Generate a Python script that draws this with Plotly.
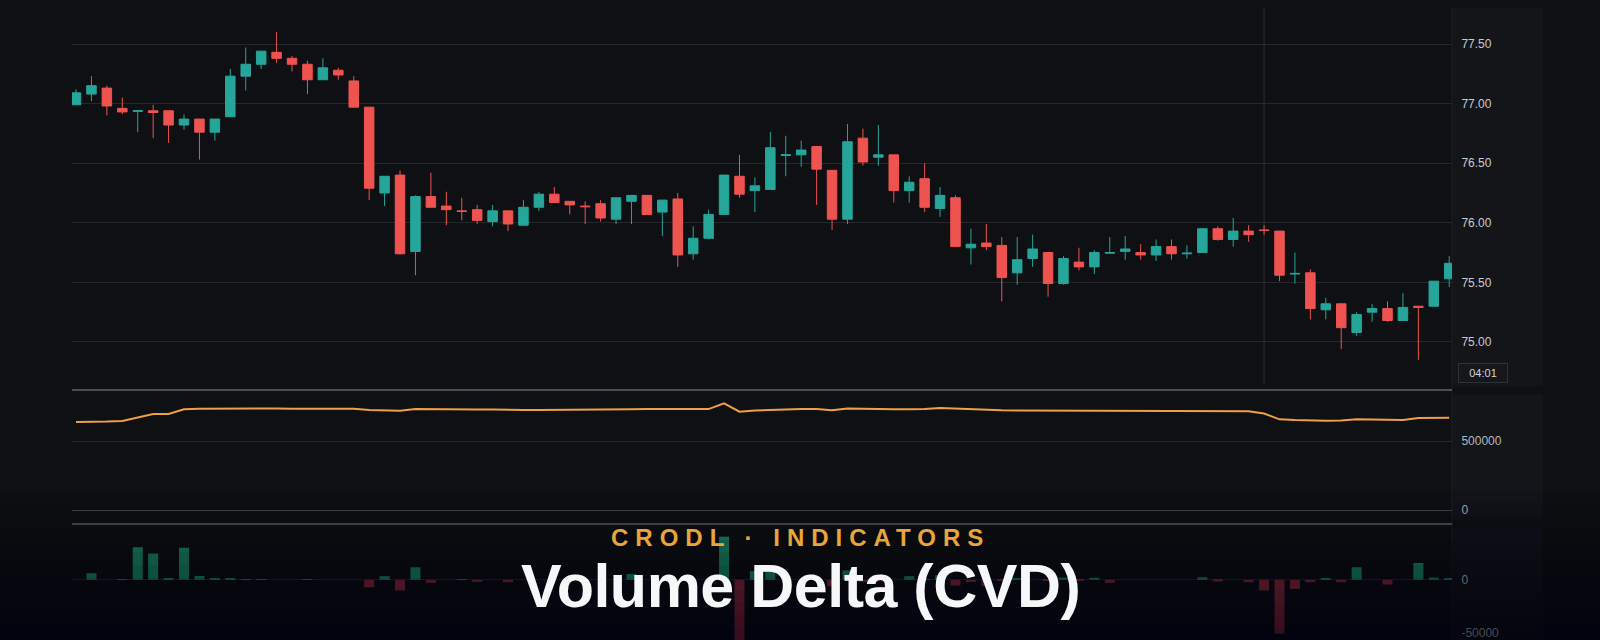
import plotly.graph_objects as go

# ---------------- data ----------------
opens = [76.99, 77.08, 77.13, 76.96, 76.935, 76.94, 76.94, 76.82, 76.87, 76.76,
         76.89, 77.23, 77.33, 77.43, 77.38, 77.33, 77.20, 77.28, 77.19, 76.97,
         76.25, 76.40, 75.76, 76.22, 76.14, 76.10, 76.11, 76.01, 76.10, 75.98,
         76.13, 76.24, 76.18, 76.14, 76.16, 76.03, 76.18, 76.23, 76.09, 76.20,
         75.74, 75.87, 76.07, 76.39, 76.27, 76.28, 76.565, 76.57, 76.64, 76.44,
         76.03, 76.71, 76.55, 76.57, 76.27, 76.37, 76.12, 76.21, 75.79, 75.83,
         75.81, 75.58, 75.70, 75.75, 75.49, 75.67, 75.63, 75.745, 75.76, 75.75,
         75.73, 75.80, 75.74, 75.75, 75.95, 75.86, 75.93, 75.94, 75.93, 75.57,
         75.58, 75.27, 75.32, 75.08, 75.25, 75.28, 75.18, 75.30, 75.30, 75.53]
highs = [77.12, 77.23, 77.15, 77.05, 76.94, 76.99, 76.94, 76.91, 76.87, 76.87,
         77.29, 77.47, 77.44, 77.60, 77.40, 77.36, 77.38, 77.30, 77.23, 76.97,
         76.39, 76.44, 76.23, 76.42, 76.26, 76.21, 76.15, 76.15, 76.10, 76.19,
         76.26, 76.30, 76.18, 76.18, 76.19, 76.21, 76.23, 76.23, 76.19, 76.25,
         75.97, 76.11, 76.40, 76.57, 76.38, 76.76, 76.73, 76.69, 76.64, 76.44,
         76.83, 76.79, 76.82, 76.57, 76.39, 76.50, 76.30, 76.23, 75.95, 75.99,
         75.88, 75.88, 75.90, 75.75, 75.72, 75.79, 75.77, 75.88, 75.89, 75.82,
         75.86, 75.86, 75.81, 75.95, 75.97, 76.04, 75.98, 75.98, 75.93, 75.75,
         75.61, 75.37, 75.32, 75.25, 75.32, 75.34, 75.41, 75.30, 75.51, 75.72]
lows = [76.99, 77.02, 76.90, 76.91, 76.76, 76.71, 76.67, 76.78, 76.53, 76.69,
        76.89, 77.11, 77.29, 77.34, 77.27, 77.08, 77.20, 77.20, 76.97, 76.19,
        76.14, 75.73, 75.56, 76.13, 75.98, 76.02, 75.99, 75.97, 75.93, 75.98,
        76.10, 76.17, 76.07, 75.99, 76.01, 75.99, 75.99, 76.07, 75.89, 75.63,
        75.69, 75.86, 76.07, 76.21, 76.09, 76.28, 76.39, 76.47, 76.15, 75.94,
        75.99, 76.48, 76.48, 76.17, 76.17, 76.09, 76.05, 75.80, 75.65, 75.77,
        75.34, 75.48, 75.63, 75.38, 75.48, 75.60, 75.57, 75.74, 75.69, 75.69,
        75.68, 75.69, 75.70, 75.75, 75.85, 75.80, 75.84, 75.90, 75.51, 75.49,
        75.19, 75.19, 74.94, 75.05, 75.17, 75.17, 75.18, 74.85, 75.30, 75.46]
closes = [77.09, 77.15, 76.98, 76.93, 76.94, 76.925, 76.82, 76.87, 76.76, 76.87,
          77.23, 77.33, 77.44, 77.38, 77.33, 77.20, 77.30, 77.24, 76.97, 76.29,
          76.39, 75.74, 76.22, 76.13, 76.11, 76.095, 76.02, 76.10, 75.99, 76.13,
          76.24, 76.17, 76.15, 76.135, 76.04, 76.21, 76.23, 76.07, 76.19, 75.73,
          75.87, 76.07, 76.40, 76.24, 76.31, 76.63, 76.57, 76.61, 76.45, 76.03,
          76.68, 76.51, 76.57, 76.27, 76.34, 76.13, 76.23, 75.80, 75.82, 75.80,
          75.54, 75.69, 75.78, 75.49, 75.70, 75.63, 75.75, 75.75, 75.78, 75.73,
          75.80, 75.74, 75.745, 75.95, 75.86, 75.93, 75.90, 75.935, 75.56, 75.575,
          75.28, 75.32, 75.12, 75.23, 75.28, 75.18, 75.29, 75.29, 75.51, 75.66]
cvd = [638000, 638000, 641000, 645000, 672000, 696000, 696000, 730000, 734000, 735000,
       735000, 735000, 736000, 735000, 734000, 734000, 734000, 734000, 733000, 725000,
       722000, 720000, 732000, 730000, 730000, 729000, 728000, 728000, 725000, 725000,
       725000, 725000, 725000, 725000, 726000, 728000, 730000, 731000, 731000, 730000,
       730000, 731000, 773000, 712000, 721000, 725000, 732000, 732000, 732000, 722000,
       736000, 733000, 730000, 730000, 730000, 731000, 739000, 735000, 732000, 723000,
       722000, 721000, 721000, 720000, 720000, 720000, 720000, 720000, 719000, 719000,
       718000, 718000, 718000, 718000, 718000, 718000, 716000, 699000, 657000, 652000,
       648000, 647000, 648000, 657000, 656000, 652000, 652000, 667000, 668000, 669000]
vol_delta = [0, 6300, 0, 800, 31000, 25000, 1500, 30500, 3800, 1000,
             1600, 600, 400, 0, 0, 300, 0, 0, 0, -7000,
             3500, -10000, 12000, -2800, 0, 300, -1900, 0, -2200, 0,
             0, 0, 0, 0, 0, 0, 5700, 0, 0, -1200,
             0, 0, 41000, -62000, 8500, 9000, 0, 0, 0, -6000,
             9000, -2000, -1500, 0, 3500, 500, 4500, -5300, -2000, -6000,
             -1000, 1600, 0, -800, 2200, -1000, 2000, -2800, 0, 0,
             0, 0, 0, 2500, -1600, 0, -2200, -10000, -51000, -8500,
             -2200, 1000, -2200, 12000, 0, -4400, 0, 16000, 2200, 1000]
price_ticks = [75.0, 75.5, 76.0, 76.5, 77.0, 77.5]
cvd_ticks = [0, 500000]
vol_ticks = [-50000, 0]
crosshair_index = 77
crosshair_label = "04:01"
title_small = "CRODL · INDICATORS"
title_big = "Volume Delta (CVD)"

idx = list(range(len(opens)))

# ---------------- style ----------------
BG = "#0e1013"
GREEN = "#26a69a"
RED = "#ef5350"
VGREEN = "#1d8a62"
VRED = "#8c2a3a"
GRID = "#24272c"
SEP = "#8c8f94"
W, H = 1600, 640
X0, X1 = 72 / W, 1452 / W
P_BOT, P_TOP = 1 - 390 / H, 1 - 8 / H
C_BOT, C_TOP = 1 - 524 / H, 1 - 390 / H
V_BOT, V_TOP = 0.0, 1 - 524 / H

fig = go.Figure()
fig.add_trace(go.Candlestick(
    x=idx, open=opens, high=highs, low=lows, close=closes,
    increasing=dict(line=dict(color=GREEN, width=1), fillcolor=GREEN),
    decreasing=dict(line=dict(color=RED, width=1), fillcolor=RED),
    whiskerwidth=0, hoverinfo="skip", showlegend=False,
    xaxis="x", yaxis="y"))
fig.add_trace(go.Scatter(
    x=idx, y=cvd, mode="lines", line=dict(color="#f0a046", width=2),
    hoverinfo="skip", showlegend=False, xaxis="x2", yaxis="y2"))
fig.add_trace(go.Bar(
    x=idx, y=vol_delta,
    marker=dict(color=[VGREEN if v >= 0 else VRED for v in vol_delta], line=dict(width=0)),
    hoverinfo="skip", showlegend=False, xaxis="x3", yaxis="y3"))

xr = [-0.26, 89.18]
xcommon = dict(domain=[X0, X1], range=xr, showgrid=False, zeroline=False,
               showticklabels=False, showline=False, ticks="", fixedrange=True)
ycommon = dict(side="right", showline=False, ticks="outside", ticklen=6,
               tickcolor="rgba(0,0,0,0)", fixedrange=True,
               tickfont=dict(family="Liberation Sans, Arial, sans-serif", size=12, color="#b4b7bd"))

shapes = []
# right axis strip backgrounds
for (ya, yb) in [(8, 386), (395, 520), (528, 640)]:
    shapes.append(dict(type="rect", xref="paper", yref="paper", x0=X1, x1=1543 / W,
                       y0=1 - yb / H, y1=1 - ya / H, fillcolor="#131519",
                       line=dict(width=0), layer="below"))
# axis border
shapes.append(dict(type="line", xref="paper", yref="paper", x0=X1, x1=X1,
                   y0=0, y1=P_TOP, line=dict(color="#1d2024", width=1), layer="below"))
# crosshair
shapes.append(dict(type="line", xref="x", yref="paper", x0=crosshair_index, x1=crosshair_index,
                   y0=1 - 384 / H, y1=P_TOP, line=dict(color="#2c2f35", width=1), layer="below"))
# panel separators
for yp in [C_TOP, C_BOT]:
    shapes.append(dict(type="line", xref="paper", yref="paper", x0=X0, x1=X1,
                       y0=yp, y1=yp, line=dict(color=SEP, width=1), layer="above"))
# bottom darkening gradient
n = 12
for k in range(n):
    ytop = 490 + k * (150 / n)
    shapes.append(dict(type="rect", xref="paper", yref="paper", x0=0, x1=1,
                       y0=0, y1=1 - ytop / H, fillcolor="rgba(5,6,8,0.07)",
                       line=dict(width=0), layer="above"))

annotations = [
    dict(text=crosshair_label, xref="paper", yref="paper", x=1483 / W, y=1 - 373 / H,
         showarrow=False, font=dict(family="Liberation Sans, Arial", size=11, color="#d1d4dc"),
         bgcolor="#15171b", bordercolor="#2e3136", borderwidth=1, borderpad=3, width=42,
         xanchor="center", yanchor="middle"),
    dict(text='<b><span style="letter-spacing:7px">' + title_small + '</span></b>',
         xref="paper", yref="paper", x=0.5, y=1 - 537 / H, showarrow=False,
         font=dict(family="Liberation Sans, Arial", size=24, color="#e8a53a"),
         xanchor="center", yanchor="middle"),
    dict(text='<b><span style="letter-spacing:-0.5px">' + title_big + '</span></b>',
         xref="paper", yref="paper", x=0.5, y=1 - 586 / H, showarrow=False,
         font=dict(family="Liberation Sans, Arial", size=61, color="#f6f7f8"),
         xanchor="center", yanchor="middle"),
]

fig.update_layout(
    width=W, height=H, margin=dict(l=0, r=0, t=0, b=0),
    paper_bgcolor=BG, plot_bgcolor="rgba(0,0,0,0)",
    showlegend=False, bargap=0.35, boxgap=0.12, hovermode=False,
    xaxis=dict(**xcommon, anchor="y", rangeslider=dict(visible=False)),
    xaxis2=dict(**xcommon, anchor="y2", matches="x"),
    xaxis3=dict(**xcommon, anchor="y3", matches="x"),
    yaxis=dict(**ycommon, anchor="x", domain=[P_BOT, P_TOP], range=[74.597, 77.802],
               tickvals=price_ticks, tickformat=".2f", showgrid=True, gridcolor=GRID,
               gridwidth=1, zeroline=False),
    yaxis2=dict(**ycommon, anchor="x2", domain=[C_BOT, C_TOP], range=[-101400, 869500],
                tickvals=cvd_ticks, ticktext=[str(v) for v in cvd_ticks],
                showgrid=True, gridcolor=GRID, zeroline=True, zerolinecolor="#45484d",
                zerolinewidth=1),
    yaxis3=dict(**ycommon, anchor="x3", domain=[V_BOT, V_TOP], range=[-57000, 53000],
                tickvals=vol_ticks, ticktext=[str(v) for v in vol_ticks],
                showgrid=False, zeroline=True, zerolinecolor="#2b2e33", zerolinewidth=1),
    shapes=shapes, annotations=annotations,
)
fig.update_yaxes(tickfont=dict(color="#c8cad0"), selector=dict(anchor="x"))

fig.write_html("out.html", config={"displayModeBar": False})
